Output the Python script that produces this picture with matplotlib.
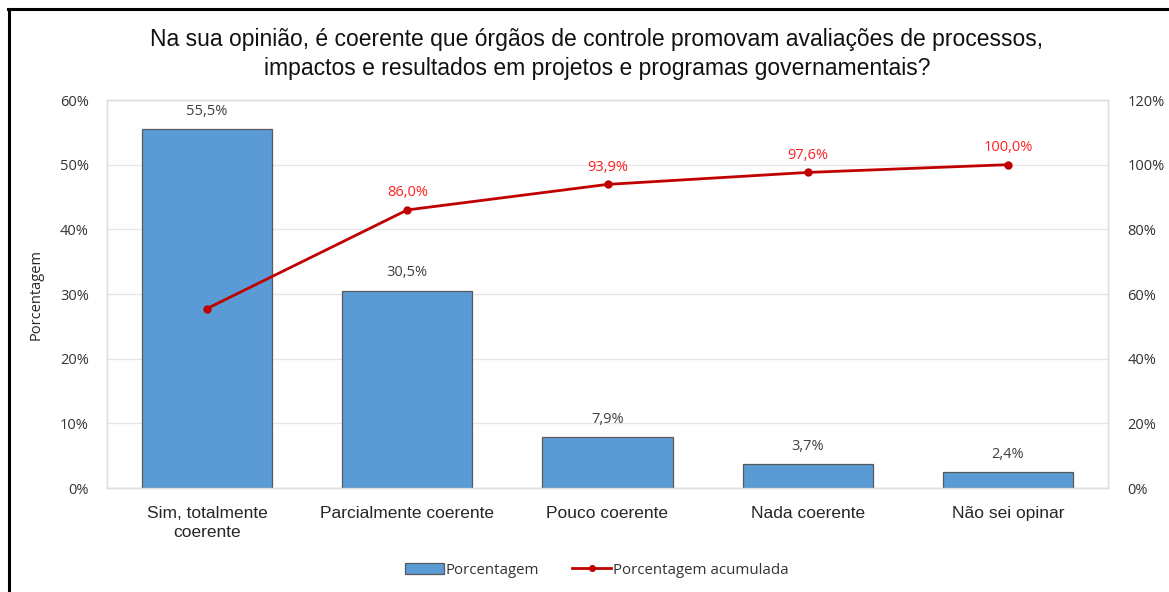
import matplotlib
matplotlib.use("Agg")
import matplotlib.pyplot as plt
from matplotlib.lines import Line2D
from matplotlib.ticker import FuncFormatter

categories = ["Sim, totalmente\ncoerente", "Parcialmente coerente", "Pouco coerente",
              "Nada coerente", "Não sei opinar"]
percent = [55.5, 30.5, 7.9, 3.7, 2.4]
cumulative = [55.5, 86.0, 93.9, 97.6, 100.0]
left_ticks = [0, 10, 20, 30, 40, 50, 60]
right_ticks = [0, 20, 40, 60, 80, 100, 120]

title = ("Na sua opinião, é coerente que órgãos de controle promovam avaliações de processos,\n"
         "impactos e resultados em projetos e programas governamentais?")

fig = plt.figure(figsize=(11.69, 5.92), dpi=100)
ax = fig.add_axes([107/1169, (592-488)/592, (1108-107)/1169, (488-100)/592])
ax2 = ax.twinx()

x = list(range(len(categories)))
ax.bar(x, percent, width=0.65, color="#5b9bd5", edgecolor="#595959", linewidth=0.9, zorder=3)
ax.set_xlim(-0.5, len(categories) - 0.5)
ax.set_ylim(0, 60)
ax.set_yticks(left_ticks)
ax.yaxis.set_major_formatter(FuncFormatter(lambda v, p: f"{v:.0f}%"))
ax.grid(axis="y", color="#e6e6e6", linewidth=1, zorder=0)
ax.set_axisbelow(True)
ax.set_xticks(x)
ax.set_xticklabels(categories, fontsize=12.5, family="Liberation Sans", color="#262626",
                   linespacing=1.3)
ax.tick_params(axis="x", length=0, pad=13)
ax.tick_params(axis="y", length=0, labelsize=10.5, colors="#333333", pad=13)
for lab in ax.get_yticklabels():
    lab.set_family("Open Sans")
ax.set_ylabel("Porcentagem", fontsize=10.5, family="Open Sans", color="#262626", labelpad=12)

for xi, v in zip(x, percent):
    ax.text(xi, v + 1.6, f"{v:.1f}%".replace(".", ","), ha="center", va="bottom",
            fontsize=10.5, family="Open Sans", color="#404040")

ax2.plot(x, cumulative, color="#c00000", linewidth=2, marker="o", markersize=5, zorder=4)
ax2.set_ylim(0, 120)
ax2.set_yticks(right_ticks)
ax2.yaxis.set_major_formatter(FuncFormatter(lambda v, p: f"{v:.0f}%"))
ax2.tick_params(axis="y", length=0, labelsize=10.5, colors="#333333", pad=14)
for lab in ax2.get_yticklabels():
    lab.set_family("Open Sans")
for xi, v in zip(x[1:], cumulative[1:]):
    ax2.text(xi, v + 3.0, f"{v:.1f}%".replace(".", ","), ha="center", va="bottom",
             fontsize=10.5, family="Open Sans", color="#ff2020")

for a in (ax, ax2):
    for s in a.spines.values():
        s.set_color("#e0e0e0")
        s.set_linewidth(1)

fig.text(597/1169, 1 - 54/592, title, ha="center", va="center", fontsize=16.5,
         family="Liberation Sans", color="#111111", linespacing=1.3)

handles = [plt.Rectangle((0, 0), 1, 1, facecolor="#5b9bd5", edgecolor="#595959", linewidth=0.9),
           Line2D([0], [0], color="#c00000", linewidth=2, marker="o", markersize=4)]
leg = fig.legend(handles, ["Porcentagem", "Porcentagem acumulada"], loc="center",
                 bbox_to_anchor=(597/1169, 1 - 570/592), ncol=2, frameon=False,
                 prop={"family": "Open Sans", "size": 10.8}, handlelength=2.6,
                 handletextpad=0.1, columnspacing=2.2, labelcolor="#333333")

fig.add_artist(Line2D([8/1169, 1], [1 - 9/592, 1 - 9/592], color="black", linewidth=2.2,
                      transform=fig.transFigure))
fig.add_artist(Line2D([9/1169, 9/1169], [0, 1 - 9/592], color="black", linewidth=2.2,
                      transform=fig.transFigure))

fig.savefig("out.png", dpi=100)
